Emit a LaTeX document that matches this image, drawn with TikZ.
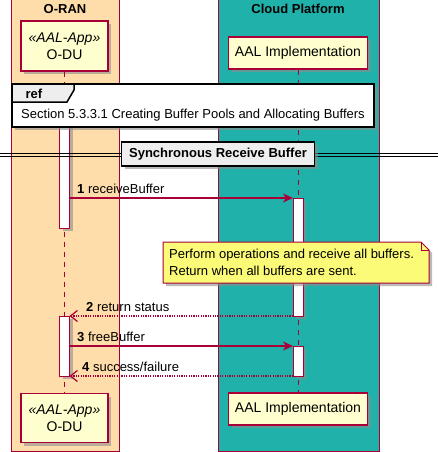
\documentclass[tikz,border=0pt]{standalone}
\usepackage{fontspec}
\setmainfont{Liberation Sans}
\usetikzlibrary{arrows.meta,shadows}
\definecolor{umlred}{HTML}{A80036}
\definecolor{partfill}{HTML}{FEFECE}
\definecolor{oranfill}{HTML}{FFDDAA}
\definecolor{cloudfill}{HTML}{20B2AA}
\definecolor{notefill}{HTML}{FBFB77}
\definecolor{grayfill}{HTML}{EEEEEE}
\tikzset{
  txt/.style={font=\fontsize{13}{16}\selectfont, inner sep=0pt},
  boxtitle/.style={font=\fontsize{13}{16}\selectfont\bfseries, inner sep=0pt},
  umlshadow/.style={drop shadow={shadow xshift=3pt, shadow yshift=-3pt,
    fill=black!45, opacity=0.6}},
  partbox/.style={draw=umlred, fill=partfill, line width=1.2pt, align=center,
    font=\fontsize{14}{17}\selectfont, umlshadow},
  lifeline/.style={draw=umlred, line width=0.8pt, dash pattern=on 5pt off 5pt},
  actbar/.style={draw=umlred, fill=white, line width=1pt, umlshadow},
  syncmsg/.style={draw=umlred, line width=1.2pt, -{Stealth[length=10pt, width=9pt, inset=3pt]}},
  retmsg/.style={draw=umlred, line width=1.2pt, dash pattern=on 1.2pt off 1.2pt,
    -{Straight Barb[length=7pt, width=11pt, line width=1.2pt]}},
}
\begin{document}
\begin{tikzpicture}[x=1pt, y=-1pt]
  \useasboundingbox (0,0) rectangle (438,452);
  % boxes
  \draw[umlred, line width=1pt, fill=oranfill] (11,0) rectangle (119,451);
  \draw[umlred, line width=1pt, fill=cloudfill] (218,0) rectangle (379,451);
  \node[boxtitle] (oran) at (65,9) {O-RAN};
  \node[boxtitle] (cloud) at (298,9) {Cloud Platform};
  % participants
  \node[partbox, minimum width=87, minimum height=50] (oduTop) at (64.5,46)
    {\textit{«AAL-App»}\\O-DU};
  \node[partbox, minimum width=139, minimum height=32] (aalTop) at (298,53)
    {AAL Implementation};
  \node[partbox, minimum width=87, minimum height=49] (oduBot) at (64.5,418)
    {\textit{«AAL-App»}\\O-DU};
  \node[partbox, minimum width=139, minimum height=32] (aalBot) at (298,409)
    {AAL Implementation};
  % lifelines
  \draw[lifeline] (oduTop.south) -- (oduBot.north);
  \draw[lifeline] (aalTop.south) -- (aalBot.north);
  % activations
  \draw[actbar] (59.5,100) rectangle (69.5,228);
  \draw[actbar] (293,198) rectangle (303,316);
  \draw[actbar] (59.5,316) rectangle (69.5,376);
  \draw[actbar] (293,346) rectangle (303,376);
  \coordinate (oduR1) at (69.5,198);
  \coordinate (aalL1) at (293,198);
  \coordinate (aalL2) at (293,316);
  \coordinate (oduR2) at (69.5,316);
  \coordinate (oduR3) at (69.5,346);
  \coordinate (aalL3) at (293,346);
  \coordinate (aalL4) at (293,376);
  \coordinate (oduR4) at (69.5,376);
  % ref frame
  \draw[black, line width=1.5pt, fill=white, umlshadow]
    (12,84) rectangle (374,127);
  \draw[black, line width=1.5pt, fill=grayfill]
    (12,84) -- (74,84) -- (74,90) -- (67,102) -- (12,102) -- cycle;
  \node[boxtitle] (reftag) at (34,94) {ref};
  \node[txt] (reftext) at (193,115.5)
    {Section 5.3.3.1 Creating Buffer Pools and Allocating Buffers};
  % divider
  \draw[black, line width=1pt] (0,153) -- (438,153);
  \draw[black, line width=1pt] (0,156) -- (438,156);
  \node[draw=black, line width=1.5pt, fill=grayfill, boxtitle, inner sep=0pt,
    minimum width=193, minimum height=24, umlshadow]
    (divider) at (218,154) {Synchronous Receive Buffer};
  % messages
  \draw[syncmsg] (oduR1) -- (aalL1);
  \node[txt, anchor=base west] (msg1) at (77,193) {\textbf{1} receiveBuffer};
  \draw[retmsg] (aalL2) -- (oduR2);
  \node[txt, anchor=base west] (msg2) at (86,311) {\textbf{2} return status};
  \draw[syncmsg] (oduR3) -- (aalL3);
  \node[txt, anchor=base west] (msg3) at (77,341) {\textbf{3} freeBuffer};
  \draw[retmsg] (aalL4) -- (oduR4);
  \node[txt, anchor=base west] (msg4) at (82,371) {\textbf{4} success/failure};
  % note
  \draw[umlred, line width=1pt, fill=notefill, umlshadow]
    (163,242) -- (421,242) -- (429,250) -- (429,283) -- (163,283) -- cycle;
  \draw[umlred, line width=1pt] (421,242) -- (421,250) -- (429,250);
  \node[txt, anchor=north west, align=left, font=\fontsize{13}{17}\selectfont]
    (note) at (169,249) {Perform operations and receive all buffers.\\Return when all buffers are sent.};
\end{tikzpicture}
\end{document}
